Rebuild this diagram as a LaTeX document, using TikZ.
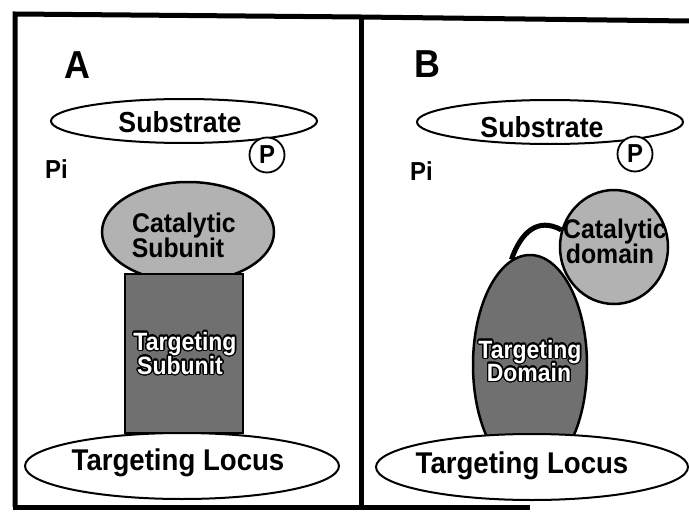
\documentclass[tikz,border=0pt]{standalone}
\usepackage{fontspec}
\setmainfont{Liberation Sans}[FakeStretch=0.92]
\usepackage{contour}
\contourlength{1.3pt}
\contournumber{24}
\usetikzlibrary{shapes.geometric}
\tikzset{
  lbl/.style={font=\bfseries\fontsize{#1}{#1}\selectfont, inner sep=0pt, anchor=base},
  wlbl/.style={lbl=#1, text=white},
  oval/.style={draw=black, line width=2pt, ellipse, inner sep=0pt},
  frameline/.style={line width=5pt, line join=miter},
  lightfill/.style={fill=black!30},
  darkfill/.style={fill=black!56},
  pcircle/.style={draw, circle, line width=1.8pt, fill=white, minimum size=35pt, inner sep=0pt},
}
\begin{document}
\begin{tikzpicture}[x=1pt,y=-1pt]
\useasboundingbox (0,0) rectangle (689,514);
% frame
\draw[frameline] (15,507) -- (15,14) -- (361,17) -- (689,21);
\draw[frameline] (361,17) -- (361,507);
\draw[frameline] (12.5,507) -- (530,507);

% ---------- Panel A ----------
\node[lbl=39] (labA) at (77,78) {A};
\node[oval, minimum width=266pt, minimum height=44pt] (subA) at (184,121) {};
\node[lbl=29] (subAt) at (180,132) {Substrate};
\node[pcircle] (pA) at (267,155) {};
\node[lbl=26, anchor=center] (pAt) at (pA.center) {P};
\node[lbl=26, anchor=base west] (piA) at (45,178) {Pi};
\node[oval, line width=2.5pt, lightfill, minimum width=172pt, minimum height=100pt] (catA) at (188,232) {};
\node[lbl=27] (catA1) at (184,232) {Catalytic};
\node[lbl=27] (catA2) at (178,257) {Subunit};
\node[draw, line width=2.5pt, darkfill, minimum width=118pt, minimum height=159pt, inner sep=0pt] (tgA) at (184,353.5) {};
\node[wlbl=25] (tgA1) at (185,350) {\contour{black}{Targeting}};
\node[wlbl=25] (tgA2) at (180,374) {\contour{black}{Subunit}};
\node[oval, fill=white, minimum width=314pt, minimum height=66pt] (locA) at (182,466) {};
\node[lbl=30] (locAt) at (178,470) {Targeting Locus};

% ---------- Panel B ----------
\node[lbl=39] (labB) at (427,77) {B};
\node[oval, minimum width=266pt, minimum height=44pt] (subB) at (550,122) {};
\node[lbl=29] (subBt) at (542,137) {Substrate};
\node[pcircle] (pB) at (635,154) {};
\node[lbl=26, anchor=center] (pBt) at (pB.center) {P};
\node[lbl=26, anchor=base west] (piB) at (410,180) {Pi};
\node[oval, line width=2.5pt, darkfill, minimum width=114pt, minimum height=220pt] (tdom) at (530,365) {};
\node[oval, line width=2.5pt, lightfill, minimum width=108pt, minimum height=114pt] (cdom) at (614,247) {};
\draw[line width=5pt] (tdom.100) .. controls (521,232) and (538,217) .. (cdom.162);
\node[lbl=27] (cdom1) at (615,238) {Catalytic};
\node[lbl=27] (cdom2) at (610,263) {domain};
\node[wlbl=25] (tdom1) at (530,358) {\contour{black}{Targeting}};
\node[wlbl=25] (tdom2) at (529,381) {\contour{black}{Domain}};
\node[oval, fill=white, minimum width=312pt, minimum height=66pt] (locB) at (532,467) {};
\node[lbl=30] (locBt) at (522,473) {Targeting Locus};
\end{tikzpicture}
\end{document}
